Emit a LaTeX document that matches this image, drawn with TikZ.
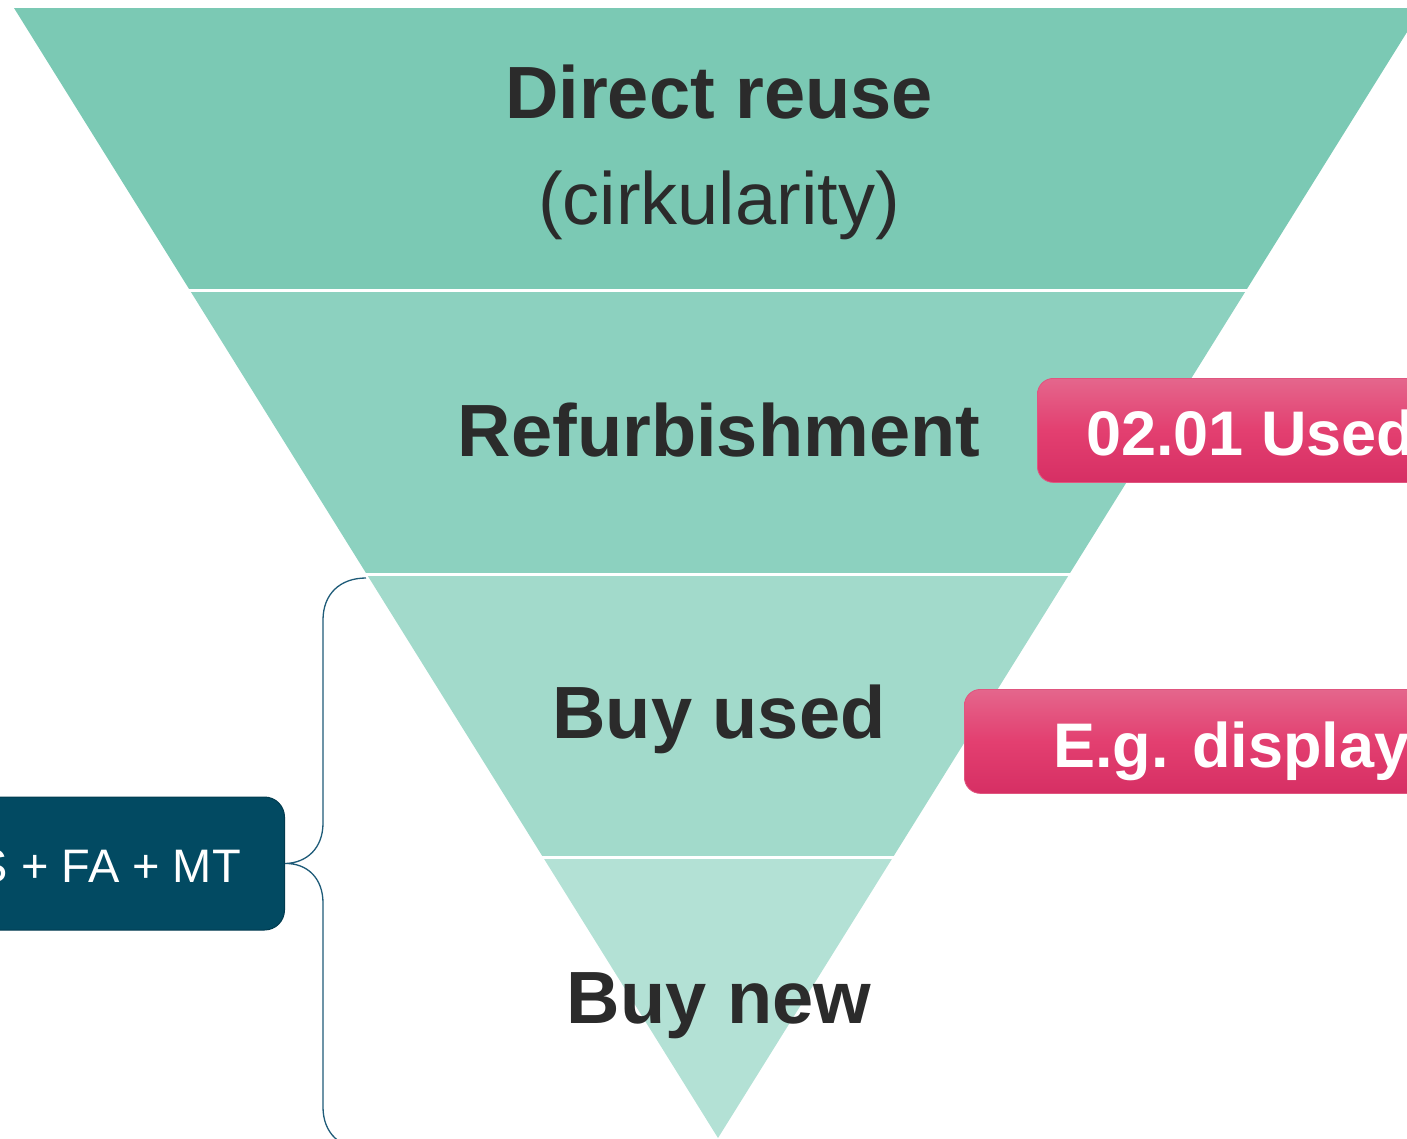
\documentclass[tikz,border=0pt]{standalone}
\usepackage{fontspec}
\setmainfont{Liberation Sans}
\definecolor{bandA}{HTML}{7BC9B4}
\definecolor{bandB}{HTML}{8CD1BF}
\definecolor{bandC}{HTML}{A2DACB}
\definecolor{bandD}{HTML}{B3E1D5}
\definecolor{txtdark}{HTML}{2B2B2B}
\definecolor{navy}{HTML}{024A62}
\definecolor{navyedge}{HTML}{013B4F}
\definecolor{bracecol}{HTML}{1E5B78}
\definecolor{pinktop}{HTML}{E4668C}
\definecolor{pinkmid}{HTML}{E33F70}
\definecolor{pinkbot}{HTML}{D62F64}
\definecolor{pinkedge}{HTML}{E0557F}
\begin{document}
\begin{tikzpicture}[x=1pt,y=-1pt,
  lbl/.style={inner sep=0pt, anchor=base, text=txtdark, font=\fontsize{74}{80}\selectfont\bfseries},
  lblreg/.style={inner sep=0pt, anchor=base, text=txtdark, font=\fontsize{74}{80}\selectfont},
  sep/.style={white, line width=3pt},
  leftbox/.style={draw=navyedge, fill=navy, line width=1pt, rounded corners=20pt, minimum width=385pt, minimum height=133pt, inner sep=0pt},
  lefttext/.style={inner sep=0pt, text=white, font=\fontsize{47}{52}\selectfont},
  pinkbox/.style={draw=pinkedge, line width=0.8pt, rounded corners=16pt, top color=pinktop, bottom color=pinkbot, middle color=pinkmid, minimum width=500pt, minimum height=104pt, inner sep=0pt, anchor=north west},
  pinktext/.style={inner sep=0pt, anchor=base west, text=white, font=\fontsize{63}{68}\selectfont\bfseries},
  bracestyle/.style={draw=bracecol, line width=1.3pt}]
\useasboundingbox (0,0) rectangle (1407,1138);
\clip (0,0) rectangle (1407,1138);
% funnel bands
\fill[bandA] (14,8) -- (1422,8) -- (1246,290.5) -- (190,290.5) -- cycle;
\fill[bandB] (190,290.5) -- (1246,290.5) -- (1069.1,574.5) -- (366.9,574.5) -- cycle;
\fill[bandC] (366.9,574.5) -- (1069.1,574.5) -- (892.8,857.5) -- (543.2,857.5) -- cycle;
\fill[bandD] (543.2,857.5) -- (892.8,857.5) -- (718,1138) -- cycle;
\draw[sep] (185,290.5) -- (1251,290.5);
\draw[sep] (362,574.5) -- (1074,574.5);
\draw[sep] (538,857.5) -- (898,857.5);
% labels
\node[lbl] (direct) at (719,118) {Direct reuse};
\node[lblreg] (circ) at (719,224) {(cirkularity)};
\node[lbl] (refurb) at (719,456) {Refurbishment};
\node[lbl] (used) at (719,738) {Buy used};
\node[lbl] (new) at (719,1023) {Buy new};
% pink boxes
\node[pinkbox] (pbox1) at (1037,378) {};
\node[pinktext] (ptext1) at (1086,455) {02.01 Used};
\node[pinkbox] (pbox2) at (964,689) {};
\node[pinktext] (ptext2) at (1053,767) {E.g. display};
% left box
\node[leftbox, anchor=east] (lbox) at (285,863.5) {};
\node[lefttext, anchor=base east] (ltext) at (241,882) {S + FA + MT};
% brace
\coordinate (btop) at (366,578);
\coordinate (bbot) at (366,1149);
\draw[bracestyle] (btop) .. controls (340,578) and (323,594) .. (323,620)
  -- (323,823) .. controls (323,848) and (307,863) .. (lbox.east)
  .. controls (307,863) and (323,878) .. (323,903)
  -- (323,1107) .. controls (323,1133) and (340,1149) .. (bbot);
\end{tikzpicture}
\end{document}
